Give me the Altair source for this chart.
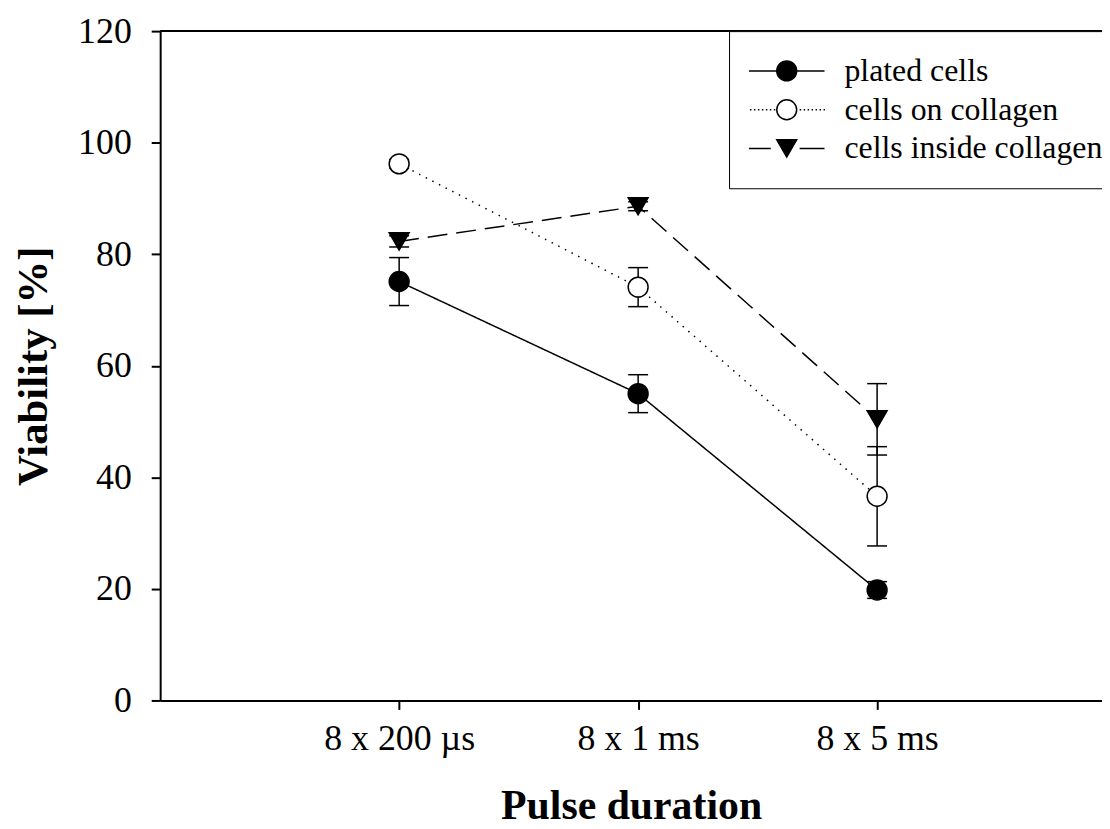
import altair as alt
import pandas as pd

# ---- data ----
categories = ["8 x 200 µs", "8 x 1 ms", "8 x 5 ms"]
positions = [1, 2, 3]
series_names = ["plated cells", "cells on collagen", "cells inside collagen"]
plated = [75.1, 55.0, 19.8]
plated_err = [4.3, 3.4, 1.5]
on_collagen = [96.2, 74.1, 36.6]
on_collagen_err = [0.8, 3.5, 8.9]
inside_collagen = [82.3, 88.6, 50.4]
inside_collagen_err = [1.0, 0.8, 6.4]
y_ticks = [0, 20, 40, 60, 80, 100, 120]

values = [plated, on_collagen, inside_collagen]
errors = [plated_err, on_collagen_err, inside_collagen_err]

rows = []
for s, vals, errs in zip(series_names, values, errors):
    for p, c, v, e in zip(positions, categories, vals, errs):
        rows.append({"series": s, "pos": p, "label": c, "value": v,
                     "lo": v - e, "hi": v + e})
df = pd.DataFrame(rows)

FONT = "Liberation Serif"
x_scale = alt.Scale(domain=[0, 3.941], nice=False, zero=False)
y_scale = alt.Scale(domain=[y_ticks[0], y_ticks[-1]], nice=False, zero=False)

label_expr = " : ".join(f"datum.value == {p} ? '{c}'" for p, c in zip(positions, categories)) + " : ''"

x_axis = alt.Axis(values=positions, labelExpr=label_expr, title="Pulse duration",
                  grid=False, tickSize=9, tickWidth=2, domainWidth=2,
                  domainColor="black", tickColor="black",
                  labelFont=FONT, labelFontSize=36, labelColor="black", labelPadding=12,
                  titleFont=FONT, titleFontSize=42, titleFontWeight="bold",
                  titleColor="black", titlePadding=30)
y_axis = alt.Axis(values=y_ticks, title="Viability [%]", grid=False,
                  tickSize=9, tickWidth=2, domainWidth=2,
                  domainColor="black", tickColor="black",
                  labelFont=FONT, labelFontSize=36, labelColor="black", labelPadding=20,
                  titleFont=FONT, titleFontSize=43, titleFontWeight="bold",
                  titleColor="black", titlePadding=22)

X = alt.X("pos:Q", scale=x_scale, axis=x_axis)

layers = []

# top frame line at the top of the value axis
top_df = pd.DataFrame({"top": [y_ticks[-1]]})
layers.append(alt.Chart(top_df).mark_rule(color="black", strokeWidth=2).encode(
    y=alt.Y("top:Q", scale=y_scale, axis=y_axis)))

# error bars
layers.append(alt.Chart(df).mark_rule(color="black", strokeWidth=1.5).encode(
    x=X, y=alt.Y("lo:Q", scale=y_scale, axis=y_axis), y2="hi:Q"))
for fld in ["lo", "hi"]:
    layers.append(alt.Chart(df).mark_tick(color="black", orient="horizontal", size=20,
                                          thickness=1.5, opacity=1).encode(
        x=X, y=alt.Y(f"{fld}:Q", scale=y_scale, axis=y_axis)))

dashes = {"plated cells": [1, 0], "cells on collagen": [1.5, 6], "cells inside collagen": [20, 9]}
shapes = {"plated cells": "circle", "cells on collagen": "circle", "cells inside collagen": "triangle-down"}
fills = {"plated cells": "black", "cells on collagen": "white", "cells inside collagen": "black"}

for s in series_names:
    sub = alt.Chart(df).transform_filter(alt.datum.series == s)
    layers.append(sub.mark_line(color="black", strokeWidth=1.5, strokeDash=dashes[s]).encode(
        x=X, y=alt.Y("value:Q", scale=y_scale, axis=y_axis)))
for s in series_names:
    sub = alt.Chart(df).transform_filter(alt.datum.series == s)
    layers.append(sub.mark_point(shape=shapes[s], filled=True, fill=fills[s], stroke="black",
                                 strokeWidth=1.5, size=400, opacity=1).encode(
        x=X, y=alt.Y("value:Q", scale=y_scale, axis=y_axis)))

# legend symbols: line + marker drawn as custom paths (units of 10px)
def dots(a, b, step=0.4):
    out = []
    x = a
    while x <= b + 1e-9:
        out.append(f"M{x:.2f},0h0.15")
        x += step
    return "".join(out)

circle = "M1,0A1,1 0 1,1 -1,0A1,1 0 1,1 1,0Z"
legend_paths = [
    "M-3.8,0H-1M1,0H3.8" + circle,
    dots(-3.7, -1.3) + dots(1.3, 3.7) + circle,
    "M-3.8,0H-1.6M1.3,0H3.8M-1,-0.87L1,-0.87L0,0.87Z",
]
legend_fills = [fills[s] for s in series_names]
legend_strokes = ["black" for s in series_names]

legend = alt.Legend(title=None, orient="none", legendX=572, legendY=0, padding=24,
                    strokeColor="black", fillColor="white", symbolSize=400,
                    symbolStrokeWidth=1.5, symbolOpacity=1,
                    symbolOffset=18, labelOffset=42, rowPadding=7,
                    labelFont=FONT, labelFontSize=32, labelColor="black", labelLimit=500)
legend_df = pd.DataFrame({"series": series_names})
layers.append(alt.Chart(legend_df).transform_filter("false").mark_point(
    filled=True, opacity=1).encode(
    shape=alt.Shape("series:N", scale=alt.Scale(domain=series_names, range=legend_paths), legend=legend),
    fill=alt.Fill("series:N", scale=alt.Scale(domain=series_names, range=legend_fills), legend=legend),
    stroke=alt.Stroke("series:N", scale=alt.Scale(domain=series_names, range=legend_strokes), legend=legend),
))

chart = alt.layer(*layers).properties(
    width=947, height=673,
    padding={"left": 153, "top": 21, "right": 0, "bottom": 125},
    autosize=alt.AutoSizeParams(type="none"),
    background="white",
).configure_view(stroke=None)

chart.save("out.html", embed_options={"renderer": "svg", "actions": False})
